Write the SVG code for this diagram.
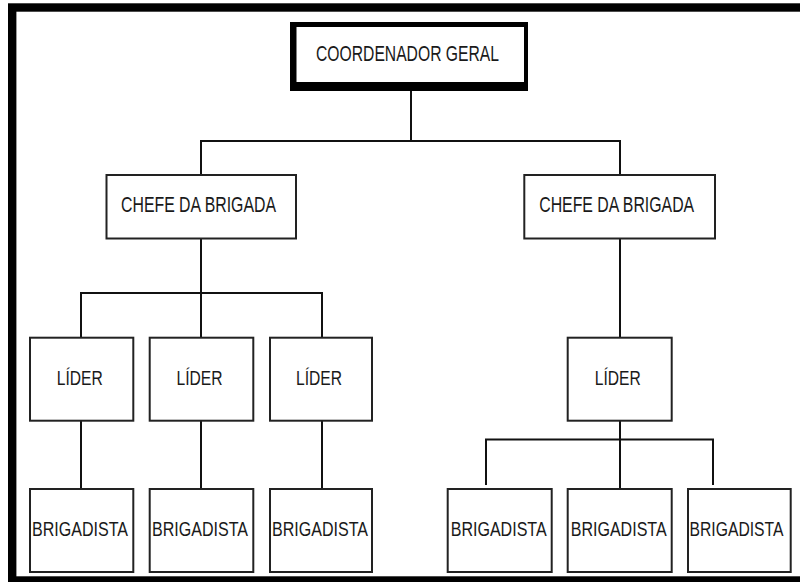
<svg xmlns="http://www.w3.org/2000/svg" width="800" height="582" viewBox="0 0 800 582">
<style>
.box{fill:#fff;stroke:#222;stroke-width:2}
.t{font-family:"Liberation Sans",Arial,sans-serif;fill:#1a1a1a;text-anchor:middle}
.s{font-size:20px}
.b{font-size:21.5px}
.c{fill:none;stroke:#111;stroke-width:2}
</style>
<rect x="0" y="0" width="800" height="582" fill="#fff"/>
<rect x="12.2" y="7.5" width="800" height="573" fill="none" stroke="#000" stroke-width="8.4"/>
<g id="connectors">
<path class="c" d="M411 91V141M201 141H620M201 140V175M620 140V175"/>
<path class="c" d="M201 239V343M81 293H322M81 292V337M322 292V337"/>
<path class="c" d="M81 421V489M201 421V489M322 421V489"/>
<path class="c" d="M620 239V337M620 421V489M486 439.5H713M486 438.5V485M713 438.5V485"/>
</g>
<g id="coord">
<rect x="290" y="22" width="238" height="69" fill="#000"/>
<rect x="296.5" y="27" width="227.5" height="55" fill="#fff"/>
<text class="t b" x="407.5" y="61" textLength="183" lengthAdjust="spacingAndGlyphs">COORDENADOR GERAL</text>
</g>
<g id="chefe1">
<rect class="box" x="106.5" y="175" width="189.5" height="63.5"/>
<text class="t b" x="198.5" y="212" textLength="155" lengthAdjust="spacingAndGlyphs">CHEFE DA BRIGADA</text>
</g>
<g id="chefe2">
<rect class="box" x="524.3" y="175" width="190.7" height="63.5"/>
<text class="t b" x="616.7" y="212" textLength="155" lengthAdjust="spacingAndGlyphs">CHEFE DA BRIGADA</text>
</g>
<g id="lider1">
<rect class="box" x="30" y="337.7" width="103.3" height="83"/>
<text class="t s" x="79.7" y="385" textLength="46" lengthAdjust="spacingAndGlyphs">LÍDER</text>
</g>
<g id="lider2">
<rect class="box" x="149.7" y="337.7" width="103.6" height="83"/>
<text class="t s" x="199.5" y="385" textLength="46" lengthAdjust="spacingAndGlyphs">LÍDER</text>
</g>
<g id="lider3">
<rect class="box" x="270" y="337.7" width="102" height="83"/>
<text class="t s" x="319" y="385" textLength="46" lengthAdjust="spacingAndGlyphs">LÍDER</text>
</g>
<g id="lider4">
<rect class="box" x="567.7" y="337.7" width="104" height="83"/>
<text class="t s" x="617.8" y="385" textLength="46" lengthAdjust="spacingAndGlyphs">LÍDER</text>
</g>
<g id="brig1">
<rect class="box" x="30" y="489" width="103.3" height="83"/>
<text class="t s" x="80" y="536" textLength="96" lengthAdjust="spacingAndGlyphs">BRIGADISTA</text>
</g>
<g id="brig2">
<rect class="box" x="149.7" y="489" width="103.6" height="83"/>
<text class="t s" x="200" y="536" textLength="96" lengthAdjust="spacingAndGlyphs">BRIGADISTA</text>
</g>
<g id="brig3">
<rect class="box" x="270" y="489" width="102" height="83"/>
<text class="t s" x="320" y="536" textLength="96" lengthAdjust="spacingAndGlyphs">BRIGADISTA</text>
</g>
<g id="brig4">
<rect class="box" x="447.7" y="489" width="104" height="83"/>
<text class="t s" x="498.7" y="536" textLength="96" lengthAdjust="spacingAndGlyphs">BRIGADISTA</text>
</g>
<g id="brig5">
<rect class="box" x="567.7" y="489" width="104" height="83"/>
<text class="t s" x="618.7" y="536" textLength="96" lengthAdjust="spacingAndGlyphs">BRIGADISTA</text>
</g>
<g id="brig6">
<rect class="box" x="688" y="489" width="102.7" height="83"/>
<text class="t s" x="736.5" y="536" textLength="94" lengthAdjust="spacingAndGlyphs">BRIGADISTA</text>
</g>
</svg>
